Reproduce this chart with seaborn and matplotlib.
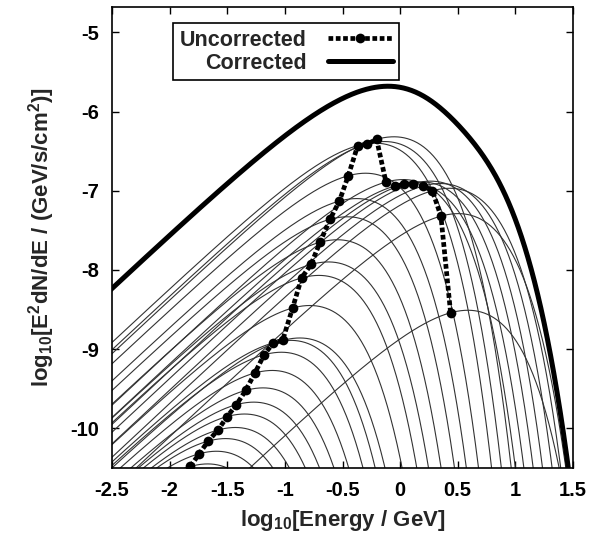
import numpy as np
import pandas as pd
import seaborn as sns
import matplotlib
matplotlib.use('Agg')
import matplotlib.pyplot as plt
from matplotlib.ticker import FixedLocator, FuncFormatter

# uncorrected points (log10 E, log10 E^2 dN/dE)
uncorr_logE = [-1.82, -1.743, -1.665, -1.58, -1.50, -1.42, -1.34, -1.26, -1.18,
               -1.10, -1.02, -0.933, -0.855, -0.773, -0.695, -0.608, -0.527,
               -0.45, -0.368, -0.285, -0.204, -0.123, -0.045, 0.034, 0.114,
               0.20, 0.28, 0.354, 0.438]
uncorr_logF = [-10.48, -10.32, -10.16, -10.02, -9.85, -9.70, -9.52, -9.30, -9.07,
               -8.92, -8.89, -8.48, -8.10, -7.93, -7.65, -7.36, -7.13,
               -6.81, -6.43, -6.41, -6.35, -6.89, -6.94, -6.92, -6.91,
               -6.94, -7.0, -7.32, -8.54]

x_ticks = [-2.5, -2, -1.5, -1, -0.5, 0, 0.5, 1, 1.5]
y_ticks = [-10, -9, -8, -7, -6, -5]

# each thin curve: cutoff power law through one uncorrected point,
# peaking a little above that point's energy
slope = 1.36
peak_shift = 0.15


def shape(d):
    return slope * d - slope / np.log(10) * (10 ** d - 1)


grid = np.linspace(-2.6, 1.6, 600)
rows = []
for i, (xe, yf) in enumerate(zip(uncorr_logE, uncorr_logF)):
    yy = yf + shape(grid - xe - peak_shift) - shape(-peak_shift)
    rows.append(pd.DataFrame({'logE': grid, 'logF': yy, 'comp': i}))
comps = pd.concat(rows, ignore_index=True)

# corrected = sum of the components
corr = np.log10(comps.pivot(index='logE', columns='comp', values='logF')
                .apply(lambda c: 10 ** c).sum(axis=1))

sns.set_theme(style='ticks')
plt.rcParams['font.family'] = ['Liberation Sans', 'DejaVu Sans']
plt.rcParams['font.weight'] = 'bold'
plt.rcParams['axes.labelweight'] = 'bold'
plt.rcParams['mathtext.fontset'] = 'custom'
plt.rcParams['mathtext.rm'] = 'Liberation Sans:bold'
plt.rcParams['mathtext.bf'] = 'Liberation Sans:bold'
plt.rcParams['mathtext.it'] = 'Liberation Sans:bold'
plt.rcParams['mathtext.default'] = 'bf'
plt.rcParams['axes.unicode_minus'] = False

fig = plt.figure(figsize=(6.05, 5.4), dpi=100)
ax = fig.add_axes([112 / 605, 72 / 540, 461 / 605, 461 / 540])

sns.lineplot(data=comps, x='logE', y='logF', units='comp', estimator=None,
             color='#333333', lw=0.8, sort=False, legend=False, ax=ax)
sns.lineplot(x=corr.index.values, y=corr.values, color='black', lw=3.6,
             sort=False, ax=ax)
sns.lineplot(x=uncorr_logE, y=uncorr_logF, color='black', lw=3.4,
             linestyle=(0, (1, 0.55)), marker='o', markersize=7,
             markeredgewidth=0, sort=False, estimator=None, ax=ax)

lines = ax.get_lines()
h_unc = lines[-1]
h_cor = lines[-2]

ax.set_xlim(-2.5, 1.5)
ax.set_ylim(-10.5, -4.68)
ax.xaxis.set_major_locator(FixedLocator(x_ticks))
ax.yaxis.set_major_locator(FixedLocator(y_ticks))
fmt = FuncFormatter(lambda v, _: f'{v:g}')
ax.xaxis.set_major_formatter(fmt)
ax.yaxis.set_major_formatter(fmt)
ax.tick_params(direction='in', top=True, right=True, length=5, width=1,
               labelsize=14.5, pad=9, colors='black')
for sp in ax.spines.values():
    sp.set_linewidth(1.2)
    sp.set_color('black')

ax.set_xlabel('log$_{10}$[Energy / GeV]', fontsize=16, labelpad=6)
ax.set_ylabel('log$_{10}$[E$^{2}$dN/dE / (GeV/s/cm$^{2}$)]', fontsize=16,
              labelpad=10)

leg = ax.legend([h_unc, h_cor], ['Uncorrected', 'Corrected'],
                loc='upper right', bbox_to_anchor=(0.6226, 0.965),
                borderaxespad=0, markerfirst=False, fancybox=False,
                edgecolor='black', framealpha=1, fontsize=15.5,
                handlelength=3.0, handletextpad=1.0, borderpad=0.3,
                labelspacing=0.1)
leg.get_frame().set_linewidth(1.2)

fig.savefig('out.png', dpi=100)
